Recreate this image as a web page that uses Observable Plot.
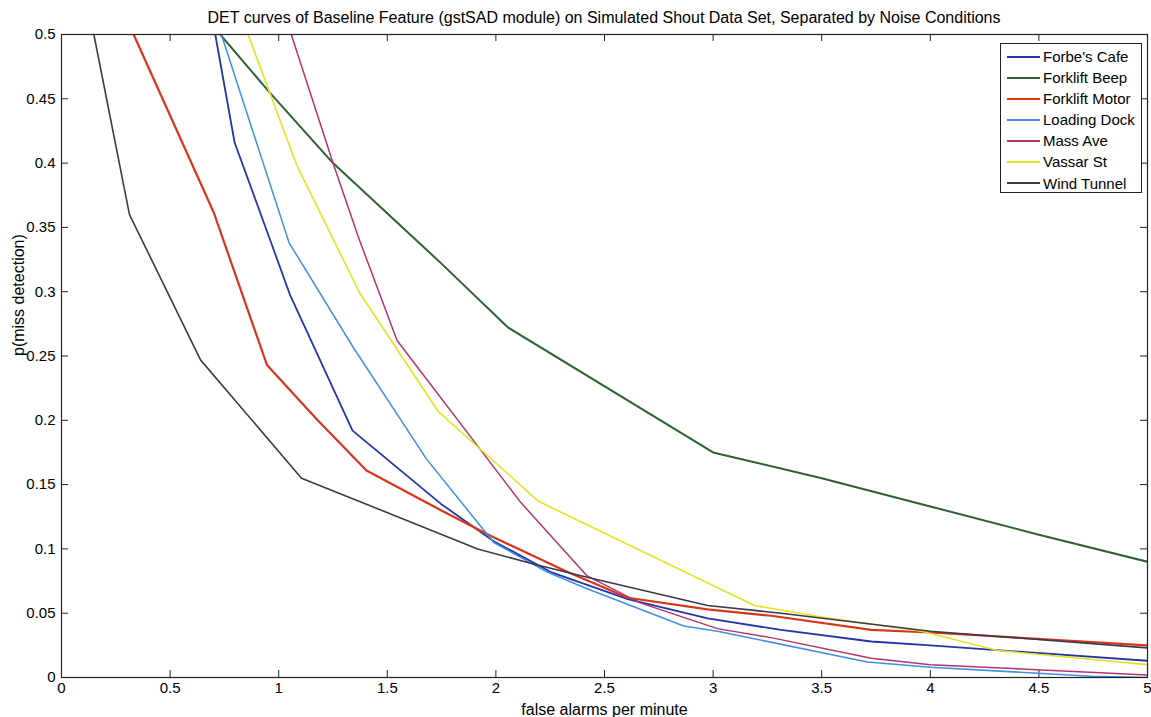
<!DOCTYPE html>
<html>
<head>
<meta charset="utf-8">
<script src="https://cdn.jsdelivr.net/npm/d3@7"></script>
<script src="https://cdn.jsdelivr.net/npm/@observablehq/plot@0.6"></script>
<style>
  html, body { margin: 0; padding: 0; background: #fff; }
  #wrap { position: relative; width: 1151px; height: 717px; font-family: "Liberation Sans", Arial, sans-serif; color: #000; }
  #title { height: 24px; padding-top: 4px; line-height: 28px; padding-left: 61px; width: 1086px; text-align: center; font-size: 16px; white-space: nowrap; }
  #chart svg { overflow: visible; display: block; }
  #legend { position: absolute; left: 1000px; top: 43px; width: 142px; height: 150px; border: 1px solid #222; background: #fff; box-sizing: border-box; padding-top: 2px; }
  .row { height: 21.1px; line-height: 21.1px; font-size: 15px; white-space: nowrap; display: flex; align-items: center; }
  .sw { display: inline-block; width: 33px; margin-left: 6px; margin-right: 3px; height: 0; border-top: 2px solid #000; }
</style>
</head>
<body>
<div id="wrap">
  <div id="title"></div>
  <div id="chart"></div>
  <div id="legend"></div>
</div>
<script>
const titleText = "DET curves of Baseline Feature (gstSAD module) on Simulated Shout Data Set, Separated by Noise Conditions";
const xLabel = "false alarms per minute";
const yLabel = "p(miss detection)";

const seriesNames = ["Forbe's Cafe", "Forklift Beep", "Forklift Motor", "Loading Dock", "Mass Ave", "Vassar St", "Wind Tunnel"];
const seriesColors = ["#2536a6", "#2f6233", "#d8361c", "#3f8fe6", "#b3356c", "#e3e326", "#393a4c"];
const seriesWidths = [1.8, 2.0, 2.2, 1.5, 1.5, 1.6, 1.6];

const xTicks = [0, 0.5, 1, 1.5, 2, 2.5, 3, 3.5, 4, 4.5, 5];
const yTicks = [0, 0.05, 0.1, 0.15, 0.2, 0.25, 0.3, 0.35, 0.4, 0.45, 0.5];

const forbesCafeX = [0.708, 0.797, 0.959, 1.051, 1.340, 1.604, 1.747, 1.990, 2.253, 2.607, 2.975, 3.313, 3.728, 4.000, 5.000];
const forbesCafeY = [0.500, 0.416, 0.341, 0.298, 0.192, 0.155, 0.135, 0.106, 0.082, 0.061, 0.046, 0.037, 0.028, 0.025, 0.013];

const forkliftBeepX = [0.731, 0.958, 1.250, 1.742, 2.057, 3.000, 3.200, 3.500, 4.000, 4.500, 5.000];
const forkliftBeepY = [0.500, 0.455, 0.400, 0.323, 0.272, 0.175, 0.167, 0.155, 0.133, 0.111, 0.090];

const forkliftMotorX = [0.332, 0.700, 0.946, 1.174, 1.404, 1.747, 1.977, 2.330, 2.607, 2.975, 3.267, 3.728, 4.000, 5.000];
const forkliftMotorY = [0.500, 0.362, 0.243, 0.201, 0.161, 0.130, 0.110, 0.082, 0.062, 0.053, 0.048, 0.037, 0.035, 0.025];

const loadingDockX = [0.736, 1.048, 1.342, 1.680, 1.990, 2.236, 2.420, 2.865, 3.020, 3.710, 4.000, 4.740, 5.000];
const loadingDockY = [0.500, 0.338, 0.257, 0.170, 0.105, 0.082, 0.069, 0.040, 0.036, 0.012, 0.008, 0.001, 0.000];

const massAveX = [1.058, 1.250, 1.370, 1.545, 2.115, 2.420, 2.664, 3.020, 3.267, 3.728, 4.000, 5.000];
const massAveY = [0.500, 0.400, 0.341, 0.262, 0.136, 0.079, 0.058, 0.038, 0.031, 0.015, 0.010, 0.002];

const vassarStX = [0.859, 1.084, 1.373, 1.734, 2.196, 3.190, 3.500, 3.960, 4.310, 5.000];
const vassarStY = [0.500, 0.398, 0.299, 0.207, 0.137, 0.056, 0.047, 0.036, 0.021, 0.010];

const windTunnelX = [0.149, 0.313, 0.640, 1.105, 1.916, 2.177, 2.420, 2.975, 3.313, 4.000, 5.000];
const windTunnelY = [0.500, 0.360, 0.247, 0.155, 0.100, 0.088, 0.078, 0.056, 0.050, 0.036, 0.023];

const seriesX = [forbesCafeX, forkliftBeepX, forkliftMotorX, loadingDockX, massAveX, vassarStX, windTunnelX];
const seriesY = [forbesCafeY, forkliftBeepY, forkliftMotorY, loadingDockY, massAveY, vassarStY, windTunnelY];

const tables = seriesNames.map((name, i) =>
  seriesX[i].map((x, j) => ({series: name, x, y: seriesY[i][j]}))
);

document.getElementById("title").textContent = titleText;

const W = 1151, H = 689;
const mt = 6, mb = 40, ml = 61, mr = 4;
const innerW = W - ml - mr, innerH = H - mt - mb;
const tickLen = 7;
const font = "Liberation Sans, Arial, sans-serif";

const chart = Plot.plot({
  width: W,
  height: H,
  marginTop: mt,
  marginBottom: mb,
  marginLeft: ml,
  marginRight: mr,
  style: {fontFamily: font, fontSize: "15px", color: "#000", background: "#fff", overflow: "visible"},
  x: {domain: [0, 5]},
  y: {domain: [0, 0.5]},
  color: {domain: seriesNames, range: seriesColors},
  marks: [
    Plot.axisX(xTicks, {anchor: "bottom", tickSize: 0, tickPadding: 5, tickFormat: d => String(d), label: null, fontSize: 15}),
    Plot.axisY(yTicks, {anchor: "left", tickSize: 0, tickPadding: 6, tickFormat: d => String(d), label: null, fontSize: 15}),
    Plot.tickX(xTicks, {x: d => d, insetTop: innerH - tickLen, stroke: "#222"}),
    Plot.tickX(xTicks, {x: d => d, insetBottom: innerH - tickLen, stroke: "#222"}),
    Plot.tickY(yTicks, {y: d => d, insetRight: innerW - tickLen, stroke: "#222"}),
    Plot.tickY(yTicks, {y: d => d, insetLeft: innerW - tickLen, stroke: "#222"}),
    ...tables.map((t, i) => Plot.line(t, {x: "x", y: "y", stroke: "series", strokeWidth: seriesWidths[i], clip: true})),
    Plot.frame({stroke: "#222", strokeWidth: 1.2}),
    Plot.text([xLabel], {frameAnchor: "bottom", dy: 32, lineAnchor: "middle", text: d => d, fontSize: 16, fill: "#000"}),
    Plot.text([yLabel], {frameAnchor: "left", dx: -43, rotate: -90, lineAnchor: "middle", text: d => d, fontSize: 16, fill: "#000"})
  ]
});
document.getElementById("chart").appendChild(chart);

const legend = document.getElementById("legend");
seriesNames.forEach((name, i) => {
  const row = document.createElement("div");
  row.className = "row";
  const sw = document.createElement("span");
  sw.className = "sw";
  sw.style.borderTopColor = seriesColors[i];
  const label = document.createElement("span");
  label.textContent = name;
  row.appendChild(sw);
  row.appendChild(label);
  legend.appendChild(row);
});
</script>
</body>
</html>
